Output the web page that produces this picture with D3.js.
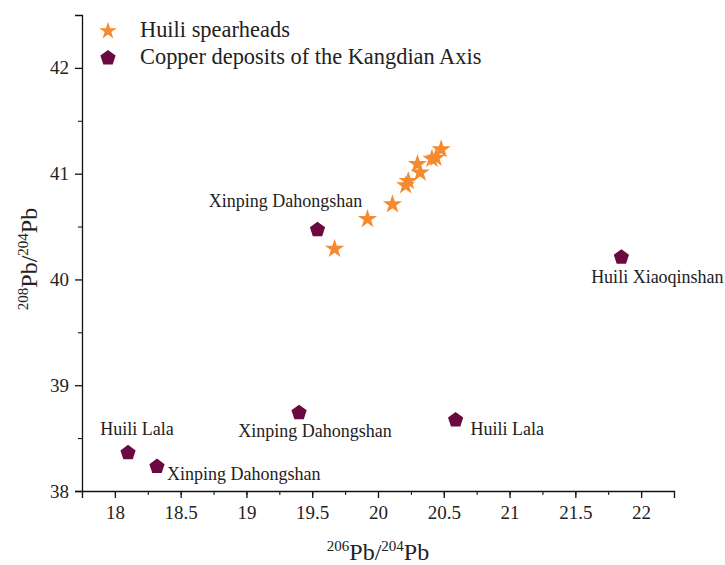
<!DOCTYPE html>
<html>
<head>
<meta charset="utf-8">
<script src="https://cdn.jsdelivr.net/npm/d3@7"></script>
<style>
  body { margin: 0; background: #fff; }
  text { font-family: "Liberation Serif", "Times New Roman", serif; fill: #222; }
</style>
</head>
<body>
<svg id="chart" width="725" height="565"></svg>
<script>
// Huili spearheads (206Pb/204Pb, 208Pb/204Pb)
var spearX = [19.67, 19.92, 20.11, 20.21, 20.23, 20.32, 20.30, 20.41, 20.44, 20.48];
var spearY = [40.29, 40.57, 40.71, 40.89, 40.93, 41.01, 41.09, 41.14, 41.15, 41.23];

// Copper deposits of the Kangdian Axis
var depositNames = ["Xinping Dahongshan", "Huili Xiaoqinshan", "Huili Lala", "Xinping Dahongshan", "Huili Lala", "Xinping Dahongshan"];
var depositX = [19.54, 21.85, 20.59, 19.40, 18.10, 18.32];
var depositY = [40.48, 40.22, 38.68, 38.75, 38.37, 38.24];

var xTicks = [18, 18.5, 19, 19.5, 20, 20.5, 21, 21.5, 22];
var yTicks = [38, 39, 40, 41, 42];

var legendNames = ["Huili spearheads", "Copper deposits of the Kangdian Axis"];

// label placement relative to each deposit marker
var labelDx = [-32, 36, 15, 16, 9, 10];
var labelDy = [-22, 27, 16, 25, -17, 14];
var labelAnchor = ["middle", "middle", "start", "middle", "middle", "start"];

var svg = d3.select("#chart");
var margin = {left: 82, top: 15, right: 51, bottom: 74};
var width = 725 - margin.left - margin.right;
var height = 565 - margin.top - margin.bottom;
var orange = "#f58a2f", maroon = "#6b0a40";
var serif = "'Liberation Serif', 'Times New Roman', serif";

var x = d3.scaleLinear().domain([17.75, 22.25]).range([0, width]);
var y = d3.scaleLinear().domain([38, 42.5]).range([height, 0]);

var g = svg.append("g").attr("transform", "translate(" + margin.left + "," + margin.top + ")");

// minor ticks
g.append("g")
    .attr("transform", "translate(0," + height + ")")
    .call(d3.axisBottom(x).tickValues(d3.range(17.75, 22.26, 0.25)).tickSize(4).tickFormat(""))
    .call(function(a) { a.select(".domain").remove(); });
g.append("g")
    .call(d3.axisLeft(y).tickValues(d3.range(38.5, 42.5, 1)).tickSize(4).tickFormat(""))
    .call(function(a) { a.select(".domain").remove(); });

var xAxis = g.append("g")
    .attr("transform", "translate(0," + height + ")")
    .call(d3.axisBottom(x).tickValues(xTicks).tickSize(7).tickSizeOuter(7).tickPadding(8).tickFormat(d3.format("")));
var yAxis = g.append("g")
    .call(d3.axisLeft(y).tickValues(yTicks).tickSize(7).tickSizeOuter(7).tickPadding(6).tickFormat(d3.format("")));

[xAxis, yAxis].forEach(function(a) {
    a.attr("font-family", serif).attr("font-size", 19);
    a.selectAll("text").attr("font-family", serif).attr("fill", "#222");
    a.selectAll("line, path").attr("stroke", "#111").attr("stroke-width", 1.3);
});

var star = d3.symbol().type(d3.symbolStar).size(115);
var penta = function(r) {
    var pts = d3.range(5).map(function(i) {
        var a = -Math.PI / 2 + i * 2 * Math.PI / 5;
        return [r * Math.cos(a), r * Math.sin(a)];
    });
    return "M" + pts.join("L") + "Z";
};

g.append("g").selectAll("path")
    .data(spearX)
    .enter().append("path")
    .attr("d", star)
    .attr("fill", orange)
    .attr("transform", function(d, i) { return "translate(" + x(d) + "," + y(spearY[i]) + ")"; });

g.append("g").selectAll("path")
    .data(depositX)
    .enter().append("path")
    .attr("d", penta(8))
    .attr("fill", maroon)
    .attr("transform", function(d, i) { return "translate(" + x(d) + "," + (y(depositY[i]) + 1) + ")"; });

g.append("g").selectAll("text")
    .data(depositNames)
    .enter().append("text")
    .attr("x", function(d, i) { return x(depositX[i]) + labelDx[i]; })
    .attr("y", function(d, i) { return y(depositY[i]) + labelDy[i]; })
    .attr("text-anchor", function(d, i) { return labelAnchor[i]; })
    .attr("font-size", 18)
    .text(function(d) { return d; });

// legend
var leg = svg.append("g").attr("transform", "translate(108,31)");
leg.append("path").attr("d", d3.symbol().type(d3.symbolStar).size(95)).attr("fill", orange);
leg.append("path").attr("d", penta(8)).attr("fill", maroon).attr("transform", "translate(0,27)");
leg.selectAll("text")
    .data(legendNames)
    .enter().append("text")
    .attr("x", 32)
    .attr("y", function(d, i) { return 6 + i * 27; })
    .attr("font-size", 22.4)
    .text(function(d) { return d; });

// axis titles
var xt = svg.append("text").attr("x", margin.left + width / 2).attr("y", 560)
    .attr("text-anchor", "middle").attr("font-size", 24);
xt.append("tspan").attr("font-size", 15).attr("dy", -9).text("206");
xt.append("tspan").attr("dy", 9).text("Pb/");
xt.append("tspan").attr("font-size", 15).attr("dy", -9).text("204");
xt.append("tspan").attr("dy", 9).text("Pb");

var yt = svg.append("text").attr("transform", "translate(37," + (margin.top + height / 2 + 6) + ") rotate(-90)")
    .attr("text-anchor", "middle").attr("font-size", 24);
yt.append("tspan").attr("font-size", 15).attr("dy", -9).text("208");
yt.append("tspan").attr("dy", 9).text("Pb/");
yt.append("tspan").attr("font-size", 15).attr("dy", -9).text("204");
yt.append("tspan").attr("dy", 9).text("Pb");
</script>
</body>
</html>
